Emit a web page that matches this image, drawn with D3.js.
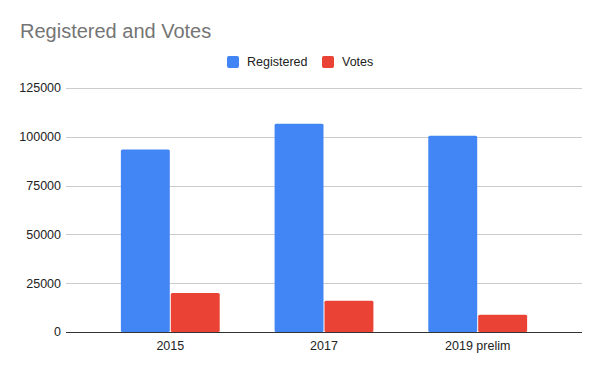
<!DOCTYPE html>
<html><head><meta charset="utf-8">
<script src="https://cdn.jsdelivr.net/npm/d3@7"></script>
<style>body{margin:0;background:#fff;} text{font-family:Arial,"Liberation Sans",sans-serif;}</style>
</head><body>
<svg id="c" width="600" height="371"></svg>
<script>
const categories = ["2015", "2017", "2019 prelim"];
const registered = [93500, 106700, 100500];
const votes = [20000, 16000, 8800];
const seriesNames = ["Registered", "Votes"];
const seriesColors = ["#4285F4", "#EA4335"];
const yTicks = [0, 25000, 50000, 75000, 100000, 125000];

const svg = d3.select("#c");
const plotLeft = 66, plotRight = 582, plotTop = 88, plotBottom = 332;

const x = d3.scaleBand().domain(categories).range([plotLeft, plotRight]).paddingInner(0.357).paddingOuter(0.357);
const xs = d3.scaleBand().domain(seriesNames).range([0, x.bandwidth()]).paddingInner(0.02);
const y = d3.scaleLinear().domain([0, 125000]).range([plotBottom, plotTop]);

// gridlines
svg.append("g").selectAll("line").data(yTicks.filter(d => d > 0)).join("line")
  .attr("x1", plotLeft).attr("x2", plotRight)
  .attr("y1", d => Math.round(y(d)) + 0.5).attr("y2", d => Math.round(y(d)) + 0.5)
  .attr("stroke", "#cccccc").attr("stroke-width", 1);

// y labels
svg.append("g").selectAll("text").data(yTicks).join("text")
  .attr("x", 61).attr("y", d => y(d)).attr("dy", "0.35em")
  .attr("text-anchor", "end").attr("font-size", 12.5).attr("fill", "#222")
  .text(d => d);

// bars
const rows = categories.map((c, i) => ({cat: c, vals: [registered[i], votes[i]]}));
const g = svg.append("g").selectAll("g").data(rows).join("g")
  .attr("transform", d => `translate(${x(d.cat)},0)`);
g.selectAll("rect").data(d => d.vals.map((v, j) => ({name: seriesNames[j], v, j}))).join("rect")
  .attr("x", d => xs(d.name)).attr("width", xs.bandwidth())
  .attr("y", d => y(d.v)).attr("height", d => y(0) - y(d.v))
  .attr("rx", 1.5)
  .attr("fill", d => seriesColors[d.j]);

// baseline
svg.append("line").attr("x1", plotLeft).attr("x2", plotRight)
  .attr("y1", plotBottom + 0.5).attr("y2", plotBottom + 0.5)
  .attr("stroke", "#333").attr("stroke-width", 1);

// x labels
svg.append("g").selectAll("text").data(categories).join("text")
  .attr("x", d => x(d) + x.bandwidth() / 2).attr("y", 350)
  .attr("text-anchor", "middle").attr("font-size", 12.5).attr("fill", "#222")
  .text(d => d);

// title
svg.append("text").attr("x", 20).attr("y", 38)
  .attr("font-size", 20).attr("fill", "#757575").text("Registered and Votes");

// legend
const legendX = [227, 322];
const lg = svg.append("g").selectAll("g").data(seriesNames).join("g")
  .attr("transform", (d, i) => `translate(${legendX[i]},56)`);
lg.append("rect").attr("width", 12).attr("height", 12).attr("rx", 2)
  .attr("fill", (d, i) => seriesColors[i]);
lg.append("text").attr("x", 20).attr("y", 6).attr("dy", "0.35em")
  .attr("font-size", 12.5).attr("fill", "#222").text(d => d);
</script>
</body></html>
